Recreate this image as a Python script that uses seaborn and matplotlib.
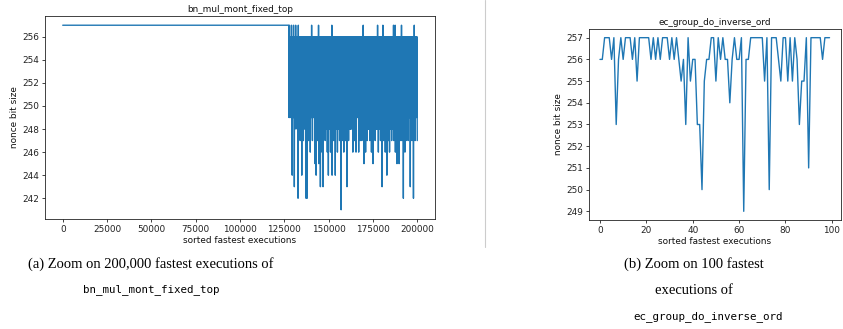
import numpy as np
import pandas as pd
import matplotlib
matplotlib.use("Agg")
import matplotlib.pyplot as plt
from matplotlib.lines import Line2D
import seaborn as sns

# ---- ec_group_do_inverse_ord: nonce bit size of the 100 fastest executions ----
ec_bits = [
    256, 256, 257, 257, 257, 256, 257, 253, 256, 257,
    256, 257, 257, 257, 256, 257, 255, 257, 257, 257,
    257, 257, 256, 257, 256, 257, 256, 257, 257, 257,
    256, 257, 256, 257, 256, 255, 256, 253, 257, 255,
    256, 256, 253, 253, 250, 255, 256, 256, 257, 257,
    255, 257, 256, 257, 256, 256, 254, 256, 257, 256,
    256, 257, 249, 256, 256, 257, 257, 257, 257, 257,
    257, 255, 257, 250, 257, 257, 257, 256, 255, 257,
    257, 255, 257, 255, 257, 256, 253, 255, 255, 257,
    251, 257, 257, 257, 257, 257, 256, 257, 257, 257,
]

# ---- bn_mul_mont_fixed_top: nonce bit size of the 200,000 fastest executions ----
bn_total = 200000
bn_flat_end = 127500          # executions before this all have 257-bit nonces
bn_flat_bits = 257
bn_band_top = 256             # upper edge of the dense band
bn_floor_start = [127500, 144000, 163000, 172000, 186000]
bn_floor_bits = [249, 248, 249, 248, 249]
bn_dip_exec = [128030, 129160, 130470, 131500, 132540, 133860, 134800, 135500,
               136110, 137240, 137800, 138700, 139500, 140810, 142130, 142880,
               143600, 144200, 145140, 146000, 146640, 147960, 149000, 149840,
               150780, 151720, 152700, 153600, 154900, 155900, 156800, 157500,
               158300, 159200, 160180, 161100, 162060, 163560, 164500, 165440,
               166760, 167700, 168640, 169950, 170700, 171460, 172960, 173900,
               174840, 176160, 177100, 178000, 178980, 179920, 180900, 181800,
               182740, 183500, 184240, 185300, 186500, 187400, 188380, 189500,
               190300, 191200, 192140, 193000, 193640, 194700, 195900, 196800,
               197780, 198720, 199950]
bn_dip_bits = [250, 244, 243, 248, 242, 247, 244, 247,
               248, 242, 242, 247, 246, 247, 245, 244,
               247, 245, 243, 246, 243, 247, 246, 244,
               246, 244, 247, 244, 246, 247, 241, 247,
               246, 247, 243, 247, 248, 246, 247, 246,
               246, 247, 247, 245, 246, 247, 247, 246,
               245, 247, 248, 246, 247, 243, 247, 246,
               244, 247, 246, 247, 247, 246, 245, 245,
               247, 247, 242, 246, 247, 247, 243, 247,
               242, 247, 247]
bn_spike_exec = [127840, 128900, 130100, 131500, 132900,
                 140440, 144200, 151720, 169580, 177660, 180480, 186500, 187440,
                 191200, 198340]

# Dense alternating band between the top value and the local floor
band_x = np.arange(bn_flat_end, bn_total, 150)
floor_idx = np.searchsorted(bn_floor_start, band_x, side="right") - 1
band_y = np.where(np.arange(len(band_x)) % 2 == 0, bn_band_top,
                  np.asarray(bn_floor_bits)[floor_idx])
for e, b in zip(bn_dip_exec, bn_dip_bits):
    k = min(np.searchsorted(band_x, e), len(band_x) - 1)
    if k % 2 == 0:
        k = k + 1 if k + 1 < len(band_x) else k - 1
    band_y[k] = b
for e in bn_spike_exec:
    k = min(np.searchsorted(band_x, e), len(band_x) - 1)
    if k % 2 == 1:
        k = k - 1
    band_y[k] = bn_flat_bits

bn_df = pd.DataFrame({
    "exec": np.concatenate([[0, bn_flat_end], band_x, [bn_total - 1]]),
    "bits": np.concatenate([[bn_flat_bits, bn_flat_bits], band_y, [247]]),
})
ec_df = pd.DataFrame({"exec": np.arange(len(ec_bits)), "bits": ec_bits})

sns.set_style("ticks")
plt.rcParams["font.family"] = ["DejaVu Sans"]
plt.rcParams["axes.edgecolor"] = "#222222"
plt.rcParams["axes.linewidth"] = 0.6

W, H = 843, 329
fig = plt.figure(figsize=(W / 100, H / 100), dpi=100)

fs = 6.4
line_color = "#1f77b4"


def style_axes(ax, title):
    ax.set_title(title, fontsize=fs, pad=3, color="#111111")
    ax.set_xlabel("sorted fastest executions", fontsize=fs, labelpad=1.5, color="#111111")
    ax.set_ylabel("nonce bit size", fontsize=fs, labelpad=2.5, color="#111111")
    ax.tick_params(labelsize=fs, length=2.5, width=0.6, pad=1.5, colors="#222222")
    for s in ax.spines.values():
        s.set_visible(True)


ax1 = fig.add_axes([45 / W, 1 - 219 / H, (435 - 45) / W, (219 - 16) / H])
sns.lineplot(data=bn_df, x="exec", y="bits", ax=ax1, color=line_color,
             linewidth=1.0, estimator=None, sort=False)
ax1.set_xlim(-10000, 210000)
ax1.set_ylim(240.2, 257.8)
ax1.set_xticks(np.arange(0, 200001, 25000))
ax1.set_yticks(np.arange(242, 257, 2))
style_axes(ax1, "bn_mul_mont_fixed_top")

ax2 = fig.add_axes([588.5 / W, 1 - 220 / H, (841 - 588.5) / W, (220 - 29) / H])
sns.lineplot(data=ec_df, x="exec", y="bits", ax=ax2, color=line_color,
             linewidth=1.0, estimator=None, sort=False)
ax2.set_xlim(-4.95, 103.95)
ax2.set_ylim(248.6, 257.4)
ax2.set_xticks(np.arange(0, 101, 20))
ax2.set_yticks(np.arange(249, 258, 1))
style_axes(ax2, "ec_group_do_inverse_ord")

# Divider between the two subfigures
fig.add_artist(Line2D([485 / W, 485 / W], [1, 1 - 247 / H],
                      color="#cccccc", linewidth=0.8))

serif = ["Liberation Serif", "DejaVu Serif"]
mono = ["DejaVu Sans Mono", "Liberation Mono"]
cap_fs = 10.5
mono_fs = 7.8


def caption(x, y, s, family, size):
    fig.text(x / W, 1 - y / H, s, ha="center", va="center",
             family=family, fontsize=size, color="black")


caption(151, 264, "(a) Zoom on 200,000 fastest executions of", serif, cap_fs)
caption(151, 290, "bn_mul_mont_fixed_top", mono, mono_fs)
caption(694, 264, "(b) Zoom on 100 fastest", serif, cap_fs)
caption(694, 290, "executions of", serif, cap_fs)
caption(708, 317, "ec_group_do_inverse_ord", mono, mono_fs)

fig.savefig("out.png", dpi=100)
